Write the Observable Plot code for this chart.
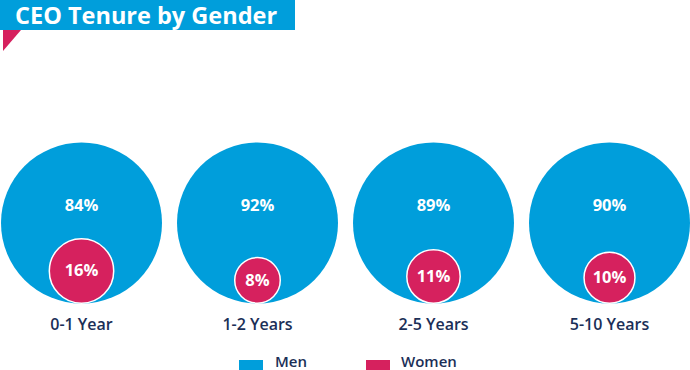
<!DOCTYPE html>
<html><head><meta charset="utf-8">
<script src="https://cdn.jsdelivr.net/npm/d3@7"></script>
<script src="https://cdn.jsdelivr.net/npm/@observablehq/plot@0.6"></script>
<style>
html,body{margin:0;padding:0;background:#fff;}
#wrap{position:relative;width:690px;height:370px;overflow:hidden;font-family:"Open Sans",sans-serif;}
#title{position:absolute;left:0;top:0;width:295px;height:30px;background:#009EDB;color:#fff;font-weight:700;font-size:23.5px;line-height:30px;padding-left:15px;box-sizing:border-box;white-space:nowrap;}
#tri{position:absolute;left:3px;top:30px;width:0;height:0;border-top:21px solid #D6215E;border-right:18px solid transparent;}
#legend{position:absolute;top:354px;left:0;width:690px;height:16px;}
.sw{position:absolute;top:6px;width:24px;height:10px;}
.lt{position:absolute;top:0;font-size:15px;line-height:15px;height:15px;color:#1B2F57;font-weight:600;}
#chart{position:absolute;left:0;top:0;}
</style></head>
<body><div id="wrap"><div id="chart"></div><div id="title"></div><div id="tri"></div><div id="legend"></div></div>
<script>
const title = "CEO Tenure by Gender";
const categories = ["0-1 Year", "1-2 Years", "2-5 Years", "5-10 Years"];
const men = [84, 92, 89, 90];
const women = [16, 8, 11, 10];
const seriesNames = ["Men", "Women"];
const colors = ["#009EDB", "#D6215E"];

const big = categories.map((c, i) => ({cat: c, total: men[i] + women[i], men: men[i]}));
const small = categories.map((c, i) => ({cat: c, w: women[i], y: -(1 - Math.sqrt(women[i] / (men[i] + women[i])))}));

const plot = Plot.plot({
  width: 690, height: 370,
  margin: 0,
  x: {type: "point", domain: categories, range: [80.5, 608.5], padding: 0, axis: null},
  y: {domain: [-1, 1], range: [302.5, 142.5], axis: null},
  r: {type: "sqrt", domain: [0, 100], range: [0, 80.5]},
  style: {fontFamily: "Open Sans, sans-serif"},
  marks: [
    Plot.dot(big, {x: "cat", y: 0, r: "total", fill: colors[0], stroke: "none"}),
    Plot.dot(small, {x: "cat", y: "y", r: "w", fill: colors[1], stroke: "#fff", strokeWidth: 1.5}),
    Plot.text(big, {x: "cat", y: 0.21, text: d => d.men + "%", fill: "#fff", fontSize: 16.5, fontWeight: 700}),
    Plot.text(small, {x: "cat", y: "y", text: d => d.w + "%", fill: "#fff", fontSize: 16.5, fontWeight: 700}),
    Plot.text(big, {x: "cat", y: -1.27, text: "cat", fill: "#1B2F57", fontSize: 16, fontWeight: 600})
  ]
});
document.getElementById("chart").appendChild(plot);
document.getElementById("title").textContent = title;

const lg = document.getElementById("legend");
const swX = [239, 366];
const txX = [275, 401];
seriesNames.forEach((n, i) => {
  const s = document.createElement("div");
  s.className = "sw"; s.style.left = swX[i] + "px"; s.style.background = colors[i];
  lg.appendChild(s);
  const t = document.createElement("div");
  t.className = "lt"; t.style.left = txX[i] + "px"; t.textContent = n;
  lg.appendChild(t);
});
</script></body></html>
